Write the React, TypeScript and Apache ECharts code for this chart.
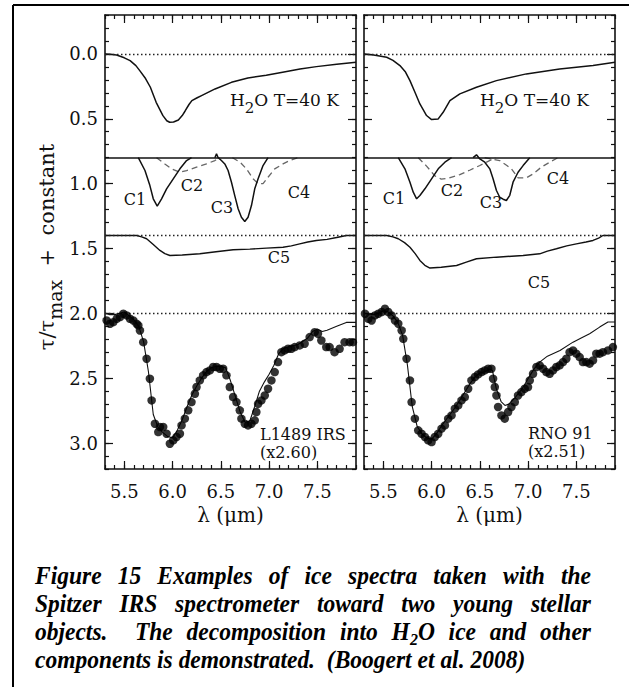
import React, { useEffect, useRef } from "react";
import * as echarts from "echarts";

// ---------- axis ranges & ticks ----------
const X_MIN = 5.3;
const X_MAX = 7.9;
const Y_MIN = -0.3;
const Y_MAX = 3.2;
const xMajorTicks = [5.5, 6.0, 6.5, 7.0, 7.5];
const yMajorTicks = [0.0, 0.5, 1.0, 1.5, 2.0, 2.5, 3.0];
const dottedLevels = [0.0, 1.4, 2.0];
const componentBaseline = 0.8;

// ---------- L1489 IRS (left panel) ----------
const l1489H2O = [
  [5.3, 0.0], [5.35, 0.003], [5.42, 0.008], [5.5, 0.03], [5.56, 0.052], [5.62, 0.09], [5.66, 0.129],
  [5.72, 0.19], [5.77, 0.257], [5.83, 0.373], [5.9, 0.476], [5.94, 0.515], [5.97, 0.527], [6.01, 0.525],
  [6.06, 0.51], [6.1, 0.475], [6.13, 0.44], [6.17, 0.39], [6.2, 0.36], [6.25, 0.34], [6.3, 0.321],
  [6.44, 0.27], [6.61, 0.219], [6.78, 0.185], [6.97, 0.165], [7.14, 0.141], [7.32, 0.116], [7.49, 0.098],
  [7.7, 0.08], [7.9, 0.065],
];
const l1489C1 = [
  [5.645, 0.8], [5.714, 0.899], [5.765, 1.015], [5.8, 1.117], [5.841, 1.174], [5.886, 1.117],
  [5.938, 1.04], [6.007, 0.963], [6.076, 0.886], [6.145, 0.822], [6.196, 0.8],
];
const l1489C2 = [
  [5.834, 0.8], [5.92, 0.848], [5.99, 0.886], [6.076, 0.912], [6.145, 0.899], [6.248, 0.873],
  [6.351, 0.848], [6.438, 0.822], [6.489, 0.8],
];
const l1489C3 = [
  [6.438, 0.8], [6.455, 0.771], [6.472, 0.8], [6.506, 0.822], [6.541, 0.848], [6.575, 0.899],
  [6.61, 0.989], [6.644, 1.092], [6.679, 1.194], [6.713, 1.259], [6.748, 1.292], [6.782, 1.259],
  [6.817, 1.169], [6.851, 1.04], [6.886, 0.963], [6.937, 0.861], [6.989, 0.8],
];
const l1489C4 = [
  [6.62, 0.8], [6.7, 0.835], [6.765, 0.886], [6.834, 0.963], [6.886, 1.0], [6.937, 1.0],
  [6.989, 0.951], [7.058, 0.886], [7.144, 0.848], [7.213, 0.822], [7.3, 0.8],
];
const l1489C5 = [
  [5.3, 1.4], [5.628, 1.4], [5.68, 1.41], [5.731, 1.425], [5.8, 1.47], [5.869, 1.515], [5.92, 1.54],
  [5.972, 1.554], [6.1, 1.55], [6.282, 1.541], [6.45, 1.525], [6.627, 1.51], [6.8, 1.505],
  [6.972, 1.497], [7.144, 1.49], [7.23, 1.48], [7.317, 1.464], [7.4, 1.45], [7.489, 1.438],
  [7.6, 1.43], [7.7, 1.415], [7.8, 1.4], [7.9, 1.4],
];
const l1489Model = [
  [5.3, 2.0], [5.35, 2.01], [5.4, 2.01], [5.45, 2.0], [5.5, 1.99], [5.55, 2.02], [5.6, 2.05],
  [5.65, 2.1], [5.7, 2.22], [5.75, 2.45], [5.8, 2.78], [5.85, 2.88], [5.9, 2.92], [5.95, 2.95],
  [6.0, 2.96], [6.05, 2.9], [6.1, 2.82], [6.15, 2.72], [6.2, 2.63], [6.25, 2.56], [6.3, 2.5],
  [6.35, 2.45], [6.4, 2.42], [6.45, 2.41], [6.5, 2.41], [6.55, 2.42], [6.6, 2.52], [6.65, 2.64],
  [6.7, 2.76], [6.75, 2.84], [6.8, 2.83], [6.85, 2.72], [6.9, 2.6], [6.95, 2.53], [7.0, 2.47],
  [7.05, 2.4], [7.1, 2.31], [7.15, 2.27], [7.2, 2.26], [7.3, 2.24], [7.4, 2.19], [7.45, 2.14],
  [7.5, 2.12], [7.55, 2.14], [7.6, 2.13], [7.7, 2.1], [7.8, 2.07], [7.9, 2.07],
];
const l1489Obs = [
  [5.317, 2.055], [5.352, 2.08], [5.386, 2.068], [5.421, 2.042], [5.455, 2.029], [5.49, 2.003],
  [5.524, 2.016], [5.559, 2.042], [5.593, 2.055], [5.627, 2.08], [5.645, 2.093], [5.662, 2.132],
  [5.696, 2.222], [5.731, 2.35], [5.765, 2.504], [5.783, 2.671], [5.817, 2.851], [5.852, 2.915],
  [5.869, 2.876], [5.903, 2.876], [5.938, 2.928], [5.972, 3.005], [6.007, 2.979], [6.041, 2.953],
  [6.076, 2.928], [6.093, 2.864], [6.127, 2.812], [6.162, 2.748], [6.196, 2.684], [6.231, 2.62],
  [6.248, 2.568], [6.282, 2.517], [6.317, 2.478], [6.351, 2.453], [6.386, 2.44], [6.42, 2.414],
  [6.455, 2.414], [6.489, 2.427], [6.524, 2.427], [6.558, 2.478], [6.593, 2.568], [6.627, 2.645],
  [6.662, 2.684], [6.696, 2.748], [6.713, 2.812], [6.748, 2.851], [6.782, 2.864], [6.817, 2.851],
  [6.851, 2.825], [6.868, 2.761], [6.886, 2.697], [6.92, 2.671], [6.955, 2.633], [6.989, 2.581],
  [7.024, 2.517], [7.058, 2.453], [7.092, 2.376], [7.127, 2.299], [7.161, 2.286], [7.196, 2.273],
  [7.23, 2.273], [7.265, 2.26], [7.317, 2.247], [7.368, 2.234], [7.42, 2.183], [7.472, 2.145],
  [7.506, 2.157], [7.541, 2.209], [7.592, 2.26], [7.627, 2.26], [7.678, 2.299], [7.73, 2.273],
  [7.782, 2.222], [7.834, 2.222], [7.868, 2.222],
];

// ---------- RNO 91 (right panel) ----------
const rnoH2O = [
  [5.3, 0.0], [5.4, 0.008], [5.535, 0.026], [5.6, 0.05], [5.672, 0.09], [5.73, 0.14], [5.776, 0.206],
  [5.83, 0.3], [5.879, 0.386], [5.948, 0.475], [6.0, 0.506], [6.069, 0.501], [6.12, 0.45],
  [6.19, 0.36], [6.293, 0.308], [6.465, 0.257], [6.672, 0.206], [6.982, 0.154], [7.327, 0.116],
  [7.672, 0.09], [7.9, 0.065],
];
const rnoC1 = [
  [5.655, 0.8], [5.724, 0.886], [5.776, 0.989], [5.81, 1.066], [5.845, 1.117], [5.879, 1.092],
  [5.931, 1.04], [6.0, 0.963], [6.069, 0.886], [6.138, 0.835], [6.207, 0.8],
];
const rnoC2 = [
  [5.862, 0.8], [5.948, 0.865], [6.034, 0.94], [6.1, 0.965], [6.17, 0.96], [6.293, 0.93],
  [6.4, 0.895], [6.5, 0.86], [6.58, 0.83], [6.66, 0.8],
];
const rnoC3 = [
  [6.43, 0.8], [6.465, 0.778], [6.5, 0.81], [6.551, 0.835], [6.603, 0.886], [6.637, 0.963],
  [6.672, 1.053], [6.706, 1.105], [6.741, 1.12], [6.775, 1.13], [6.81, 1.09], [6.844, 0.989],
  [6.896, 0.912], [6.948, 0.861], [7.017, 0.8],
];
const rnoC4 = [
  [6.55, 0.8], [6.62, 0.81], [6.706, 0.822], [6.78, 0.86], [6.827, 0.886], [6.896, 0.955],
  [6.982, 0.955], [7.051, 0.925], [7.137, 0.873], [7.241, 0.827], [7.31, 0.8],
];
const rnoC5 = [
  [5.3, 1.4], [5.535, 1.4], [5.6, 1.41], [5.655, 1.425], [5.72, 1.455], [5.776, 1.49], [5.83, 1.54],
  [5.879, 1.592], [5.93, 1.63], [5.983, 1.651], [6.1, 1.645], [6.259, 1.631], [6.36, 1.605],
  [6.465, 1.579], [6.672, 1.567], [6.948, 1.554], [7.12, 1.541], [7.2, 1.52], [7.293, 1.502],
  [7.4, 1.48], [7.5, 1.464], [7.6, 1.45], [7.672, 1.438], [7.73, 1.42], [7.775, 1.4], [7.9, 1.4],
];
const rnoModel = [
  [5.3, 2.0], [5.35, 2.01], [5.4, 2.01], [5.45, 2.0], [5.5, 1.98], [5.55, 1.99], [5.6, 2.02],
  [5.65, 2.07], [5.7, 2.17], [5.75, 2.4], [5.8, 2.72], [5.85, 2.87], [5.9, 2.93], [5.95, 2.96],
  [6.0, 2.97], [6.05, 2.93], [6.1, 2.87], [6.15, 2.82], [6.2, 2.77], [6.25, 2.72], [6.3, 2.66],
  [6.35, 2.6], [6.4, 2.54], [6.45, 2.49], [6.5, 2.46], [6.55, 2.45], [6.6, 2.43], [6.63, 2.44],
  [6.67, 2.58], [6.72, 2.68], [6.76, 2.71], [6.8, 2.7], [6.87, 2.645], [6.94, 2.58], [7.01, 2.49],
  [7.06, 2.43], [7.12, 2.376], [7.2, 2.33], [7.33, 2.286], [7.465, 2.222], [7.55, 2.19],
  [7.637, 2.157], [7.741, 2.106], [7.827, 2.067], [7.9, 2.067],
];
const rnoObs = [
  [5.31, 2.003], [5.345, 2.042], [5.379, 2.055], [5.414, 2.016], [5.448, 2.003], [5.483, 1.99],
  [5.517, 1.965], [5.552, 1.99], [5.586, 2.016], [5.621, 2.055], [5.655, 2.08], [5.69, 2.132],
  [5.707, 2.196], [5.741, 2.35], [5.776, 2.517], [5.793, 2.684], [5.827, 2.812], [5.862, 2.902],
  [5.896, 2.928], [5.931, 2.953], [5.965, 2.979], [6.0, 2.992], [6.034, 2.953], [6.069, 2.928],
  [6.103, 2.889], [6.138, 2.864], [6.172, 2.812], [6.207, 2.787], [6.241, 2.735], [6.276, 2.71],
  [6.31, 2.671], [6.344, 2.645], [6.379, 2.581], [6.413, 2.517], [6.448, 2.491], [6.482, 2.471],
  [6.517, 2.453], [6.551, 2.44], [6.586, 2.427], [6.62, 2.427], [6.637, 2.504], [6.655, 2.568],
  [6.672, 2.633], [6.689, 2.722], [6.724, 2.787], [6.758, 2.812], [6.793, 2.761], [6.827, 2.722],
  [6.862, 2.684], [6.896, 2.633], [6.93, 2.607], [6.965, 2.581], [6.999, 2.568], [7.017, 2.517],
  [7.051, 2.466], [7.086, 2.414], [7.12, 2.401], [7.155, 2.427], [7.189, 2.453], [7.223, 2.466],
  [7.258, 2.44], [7.292, 2.414], [7.327, 2.401], [7.361, 2.376], [7.396, 2.35], [7.43, 2.299],
  [7.465, 2.286], [7.499, 2.311], [7.534, 2.337], [7.568, 2.376], [7.603, 2.376], [7.637, 2.388],
  [7.672, 2.363], [7.706, 2.311], [7.741, 2.311], [7.775, 2.299], [7.827, 2.286], [7.878, 2.26],
];

// ---------- texts ----------
const panelNames = [["L1489 IRS", "(x2.60)"], ["RNO 91", "(x2.51)"]];
const componentNames = ["C1", "C2", "C3", "C4", "C5"];
const captionLines = [
  "Figure 15 Examples of ice spectra taken with the",
  "Spitzer IRS spectrometer toward two young stellar",
  "objects.  The decomposition into H2O ice and other",
  "components is demonstrated.  (Boogert et al. 2008)",
];

const SERIF = "DejaVu Serif";
const INK = "#111";

const panels = [
  { H2O: l1489H2O, C1: l1489C1, C2: l1489C2, C3: l1489C3, C4: l1489C4, C5: l1489C5, model: l1489Model, obs: l1489Obs },
  { H2O: rnoH2O, C1: rnoC1, C2: rnoC2, C3: rnoC3, C4: rnoC4, C5: rnoC5, model: rnoModel, obs: rnoObs },
];

const GRID_LEFT = [105, 364];
const GRID_TOP = 15;
const GRID_W = 251;
const GRID_H = 454;

// label layout (pixels)
const compLabelPos = [
  [[135, 199], [192, 185], [222, 207], [299, 192], [279, 257]],
  [[394, 198], [452, 190], [491, 202], [558, 178], [539, 282]],
];
const h2oLabelPos = [[230, 100], [480, 100]];
const nameLabelPos = [[260, 434], [528, 433]];

function makeXAxis(g: number, position: string, major: boolean, labels: boolean) {
  const ax: any = {
    type: "value",
    gridIndex: g,
    position,
    min: X_MIN,
    max: X_MAX,
    axisLine: { show: !major, onZero: false, lineStyle: { color: INK, width: 1.6 } },
    axisTick: { show: true, inside: true, length: major ? 8 : 4, lineStyle: { color: INK, width: 1.2 } },
    axisLabel: { show: false },
    splitLine: { show: false },
  };
  if (major) ax.axisTick.customValues = xMajorTicks;
  else ax.interval = 0.1;
  if (labels) {
    ax.axisLabel = {
      show: true,
      customValues: xMajorTicks,
      formatter: (v: number) => v.toFixed(1),
      margin: 13,
      fontFamily: SERIF,
      fontSize: 18,
      color: INK,
    };
  }
  return ax;
}

function makeYAxis(g: number, position: string, major: boolean, labels: boolean) {
  const ax: any = {
    type: "value",
    gridIndex: g,
    position,
    inverse: true,
    min: Y_MIN,
    max: Y_MAX,
    axisLine: { show: !major, onZero: false, lineStyle: { color: INK, width: 1.6 } },
    axisTick: { show: true, inside: true, length: major ? 8 : 4, lineStyle: { color: INK, width: 1.2 } },
    axisLabel: { show: false },
    splitLine: { show: false },
  };
  if (major) ax.axisTick.customValues = yMajorTicks;
  else ax.interval = 0.1;
  if (labels) {
    ax.axisLabel = {
      show: true,
      customValues: yMajorTicks,
      formatter: (v: number) => v.toFixed(1),
      margin: 7,
      fontFamily: SERIF,
      fontSize: 18,
      color: INK,
    };
  }
  return ax;
}

function lineSeries(g: number, data: number[][], dashed: boolean, width = 1.5, extra: any = {}) {
  return {
    type: "line",
    xAxisIndex: 4 * g,
    yAxisIndex: 4 * g,
    data,
    showSymbol: false,
    symbol: "none",
    silent: true,
    clip: true,
    lineStyle: dashed
      ? { color: "#666", width: 1.3, type: [6, 4] }
      : { color: INK, width },
    ...extra,
  };
}

function buildCaption(): any[] {
  const out: any[] = [];
  const canvas = document.createElement("canvas");
  const ctx = canvas.getContext("2d")!;
  const FS = 25;
  const SUB = 17;
  const SX = 0.94;
  const fam = "'Liberation Serif'";
  const mainFont = `italic bold ${FS}px ${fam}`;
  const subFont = `italic bold ${SUB}px ${fam}`;
  const measure = (w: string) => {
    if (w === "H2O") {
      ctx.font = mainFont;
      const a = ctx.measureText("H").width + ctx.measureText("O").width;
      ctx.font = subFont;
      const b = ctx.measureText("2").width;
      ctx.font = mainFont;
      return (a + b) * SX;
    }
    ctx.font = mainFont;
    return ctx.measureText(w).width * SX;
  };
  ctx.font = mainFont;
  const spaceW = ctx.measureText(" ").width * SX;
  const left = 35;
  const right = 591;
  const ys = [575, 603, 631, 659];
  captionLines.forEach((line, li) => {
    const toks: { w: string; sp: number }[] = [];
    const re = /(\S+)(\s*)/g;
    let m: RegExpExecArray | null;
    while ((m = re.exec(line))) toks.push({ w: m[1], sp: m[2].length });
    const widths = toks.map((t) => measure(t.w));
    const sumW = widths.reduce((a, b) => a + b, 0);
    const totalSp = toks.slice(0, -1).reduce((a, t) => a + t.sp, 0);
    const justify = li < captionLines.length - 1;
    const unit = justify ? (right - left - sumW) / totalSp : spaceW;
    let x = left;
    toks.forEach((t, i) => {
      const base: any = {
        fontFamily: "Liberation Serif",
        fontStyle: "italic",
        fontWeight: "bold",
        fontSize: FS,
        fill: "#000",
        align: "left",
        verticalAlign: "middle",
      };
      if (t.w === "H2O") {
        base.text = "H{s|2}O";
        base.lineHeight = 33;
        base.rich = {
          s: { fontFamily: "Liberation Serif", fontStyle: "italic", fontWeight: "bold", fontSize: SUB, lineHeight: 17, verticalAlign: "bottom", fill: "#000" },
        };
      } else {
        base.text = t.w;
      }
      out.push({ type: "text", x, y: ys[li], scaleX: SX, style: base, silent: true });
      x += widths[i] + t.sp * unit;
    });
  });
  return out;
}

function buildOption(): any {
  const xAxes: any[] = [];
  const yAxes: any[] = [];
  const series: any[] = [];
  const graphic: any[] = [];

  [0, 1].forEach((g) => {
    xAxes.push(makeXAxis(g, "bottom", false, true));
    xAxes.push(makeXAxis(g, "bottom", true, false));
    xAxes.push(makeXAxis(g, "top", false, false));
    xAxes.push(makeXAxis(g, "top", true, false));
    yAxes.push(makeYAxis(g, "left", false, g === 0));
    yAxes.push(makeYAxis(g, "left", true, false));
    yAxes.push(makeYAxis(g, "right", false, false));
    yAxes.push(makeYAxis(g, "right", true, false));

    const p = panels[g];
    series.push(
      lineSeries(g, p.H2O, false, 1.5, {
        markLine: {
          silent: true,
          symbol: "none",
          label: { show: false },
          data: [
            ...dottedLevels.map((v) => ({ yAxis: v, lineStyle: { type: [1.5, 2.5], color: "#222", width: 1.3 } })),
            { yAxis: componentBaseline, lineStyle: { type: "solid", color: INK, width: 1.6 } },
          ],
        },
      })
    );
    series.push(lineSeries(g, p.C2, true));
    series.push(lineSeries(g, p.C4, true));
    series.push(lineSeries(g, p.C1, false));
    series.push(lineSeries(g, p.C3, false));
    series.push(lineSeries(g, p.C5, false, 1.4));
    series.push(lineSeries(g, p.model, false, 1.1));
    series.push({
      type: "scatter",
      xAxisIndex: 4 * g,
      yAxisIndex: 4 * g,
      data: p.obs,
      symbol: "circle",
      symbolSize: 8.5,
      silent: true,
      itemStyle: { color: "#000" },
      z: 5,
    });

    // texts inside the panel
    graphic.push({
      type: "text",
      x: h2oLabelPos[g][0],
      y: h2oLabelPos[g][1],
      silent: true,
      style: {
        text: "H{s|2}O T=40 K",
        fontFamily: SERIF,
        fontSize: 17,
        lineHeight: 30,
        fill: INK,
        align: "left",
        verticalAlign: "middle",
        rich: { s: { fontFamily: SERIF, fontSize: 15, lineHeight: 15, verticalAlign: "bottom", fill: INK } },
      },
    });
    componentNames.forEach((name, i) => {
      graphic.push({
        type: "text",
        x: compLabelPos[g][i][0],
        y: compLabelPos[g][i][1],
        silent: true,
        style: { text: name, fontFamily: SERIF, fontSize: 16, fill: INK, align: "center", verticalAlign: "middle" },
      });
    });
    panelNames[g].forEach((txt, i) => {
      graphic.push({
        type: "text",
        x: nameLabelPos[g][0],
        y: nameLabelPos[g][1] + i * 18,
        silent: true,
        style: {
          text: txt,
          fontFamily: SERIF,
          fontSize: 16,
          lineHeight: 14,
          fill: INK,
          align: "left",
          verticalAlign: "middle",
        },
      });
    });
    // x axis title
    graphic.push({
      type: "text",
      x: GRID_LEFT[g] + GRID_W / 2,
      y: 515,
      silent: true,
      style: { text: "λ (μm)", fontFamily: SERIF, fontSize: 20, fill: INK, align: "center", verticalAlign: "middle" },
    });
  });

  // y axis title
  graphic.push({
    type: "text",
    x: 47,
    y: 247,
    rotation: Math.PI / 2,
    silent: true,
    style: {
      text: "τ/τ{s|max}  +  constant",
      fontFamily: SERIF,
      fontSize: 21,
      lineHeight: 34,
      fill: INK,
      align: "center",
      verticalAlign: "middle",
      rich: { s: { fontFamily: SERIF, fontSize: 19, lineHeight: 19, verticalAlign: "bottom", fill: INK } },
    },
  });

  // outer frame (left and top edges)
  graphic.push({ type: "line", silent: true, shape: { x1: 13, y1: 5, x2: 13, y2: 687 }, style: { stroke: "#000", lineWidth: 2 } });
  graphic.push({ type: "line", silent: true, shape: { x1: 13, y1: 5, x2: 629, y2: 5 }, style: { stroke: "#000", lineWidth: 2 } });

  graphic.push(...buildCaption());

  return {
    animation: false,
    backgroundColor: "#fff",
    grid: [0, 1].map((g) => ({ left: GRID_LEFT[g], top: GRID_TOP, width: GRID_W, height: GRID_H, containLabel: false })),
    xAxis: xAxes,
    yAxis: yAxes,
    series,
    graphic,
  };
}

export default function App() {
  const ref = useRef<HTMLDivElement>(null);
  useEffect(() => {
    document.body.style.margin = "0";
    const chart = echarts.init(ref.current!, null, { renderer: "svg" });
    chart.setOption(buildOption());
    return () => chart.dispose();
  }, []);
  return <div ref={ref} style={{ width: 629, height: 687 }} />;
}
